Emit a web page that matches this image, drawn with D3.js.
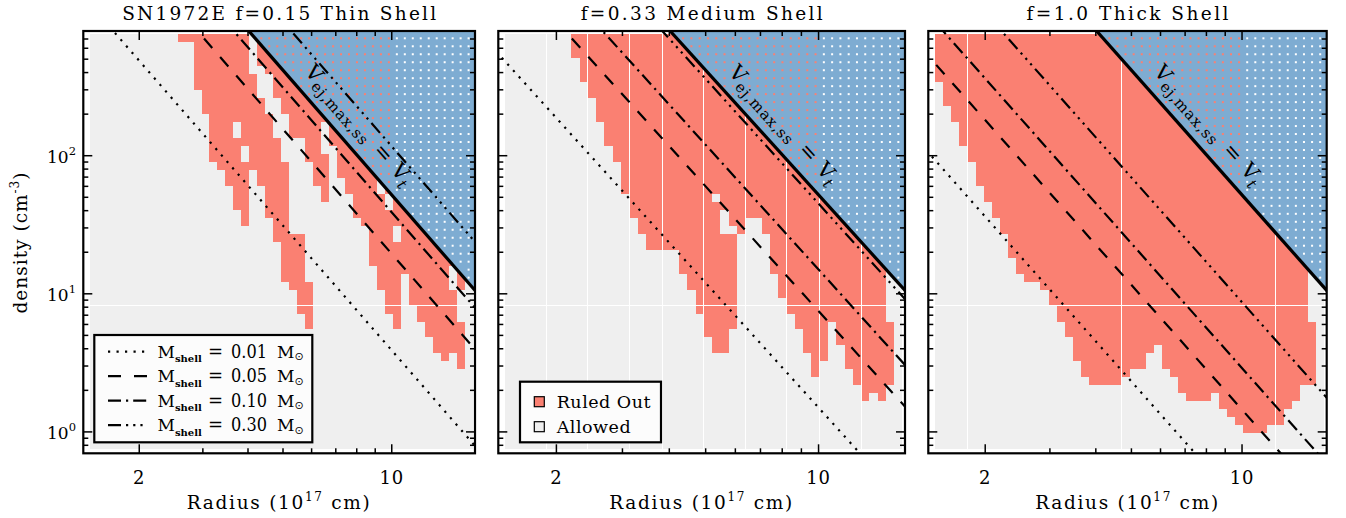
<!DOCTYPE html>
<html><head><meta charset="utf-8">
<script src="https://cdn.jsdelivr.net/npm/d3@7"></script>
<style>body{margin:0;background:#fff}svg{display:block}text{font-family:"DejaVu Serif",serif;fill:#000}</style>
</head><body>
<svg id="chart" width="1346" height="518"></svg>
<script>
// ---------------- data ----------------
const panelTitles = ["SN1972E f=0.15 Thin Shell", "f=0.33 Medium Shell", "f=1.0 Thick Shell"];
const shellFractions = [0.15, 0.33, 1.0];
const shellMasses = [0.01, 0.05, 0.10, 0.30];
const shellMassLabels = ["0.01", "0.05", "0.10", "0.30"];
const radiusDomain = [1.4, 17];          // 10^17 cm
const densityDomain = [0.7, 800];        // cm^-3
const radiusMajorTicks = [2, 10];
const radiusMinorTicks = [3, 4, 5, 6, 7, 8, 9];
const densityMajorTicks = [1, 10, 100];
const densityMinorTicks = [0.8, 0.9, 2, 3, 4, 5, 6, 7, 8, 9, 20, 30, 40, 50, 60, 70, 80, 90, 200, 300, 400, 500, 600, 700];
// model grid: 48 radius bins x 52 density bins (density bins counted from the highest density)
const gridRadius = [1.46, 16.74];
const gridRadiusBins = 48;
const gridDensity = [757, 0.75];
const gridDensityBins = 52;
// locus v_ej,max,ss = v_t : n * R^3 (cm^-3 * (10^17 cm)^3)
const vtLocus = 52000;
// ruled-out density-bin runs [first, end) for each radius bin
const ruledOutThin = [
 [],[],[],[],[],[],[],[],[],[],[],
 [[0,1]],[[0,1]],[[0,7]],[[0,10]],[[0,16]],[[0,17]],[[0,19]],
 [[0,11],[13,22]],[[0,14],[16,24]],[[5,17]],[[0,4],[8,19]],[[0,5],[10,23]],
 [[0,8],[13,26]],[[0,10],[16,31]],[[0,13],[25,32]],[[0,13],[25,35]],[[0,16],[31,37]],
 [[0,19]],[[0,11],[15,21]],[[0,14]],[[0,18]],[[0,20]],[[0,23]],[[0,24]],[[0,29]],
 [[0,18],[20,32]],[[0,20],[22,35]],[[0,24],[26,37]],[[0,30]],[[0,34]],[[0,36]],
 [[0,38]],[[0,40]],[[0,41]],[[0,29],[32,40]],[[0,32],[36,42]],[]
];
const ruledOutMedium = [
 [],[],[],[],[],[],[],[],
 [[0,3]],[[0,6]],[[0,8]],[[0,11]],[[0,14]],[[0,16]],[[0,20]],[[0,23]],[[0,25]],
 [[0,27]],[[0,27]],[[0,27]],[[0,27]],[[0,30]],[[0,32]],[[0,35]],[[0,38]],
 [[0,20],[21,40]],[[0,22],[25,40]],[[0,24],[25,37]],[[0,25]],[[0,23]],[[0,23]],[[0,25]],
 [[0,30]],[[0,33]],[[0,35]],[[0,37]],[[0,40]],[[0,43]],[[0,41]],[[0,36]],[[0,39]],
 [[0,42]],[[0,44]],[[0,46]],[[0,45]],[[0,46]],[[36,44]],[]
];
const ruledOutThick = [
 [[0,6]],[[0,9]],[[0,11]],[[0,14]],[[0,16]],[[0,19]],[[0,21]],[[0,23]],[[0,25]],[[0,28]],
 [[0,30]],[[0,31]],[[0,31]],[[0,32]],[[0,34]],[[0,36]],[[0,38]],[[0,41]],[[0,43]],[[0,44]],
 [[0,44]],[[0,44]],[[0,44]],[[0,43]],[[0,42]],[[0,42]],[[0,40]],[[0,39]],[[0,42]],[[0,43]],
 [[0,45]],[[0,46]],[[0,46]],[[0,46]],[[0,45]],[[0,47]],[[0,48]],[[0,49]],[[0,50]],[[0,50]],
 [[0,50]],[[0,49]],[[0,49]],[[0,47]],[[0,46]],[[0,44]],[[36,44]],[]
];
const ruledOut = [ruledOutThin, ruledOutMedium, ruledOutThick];
// radius below which the hidden (behind blue) bins are ruled out
const hiddenRuledOutRadius = 10;
// seams of the rendered grid image
const seamDensityBin = 34;
const seamRadiusBins = [[], [5,10,15,19,24,29,34,38,43], [4,23,42]];
const legendItems = ["Ruled Out", "Allowed"];

// ---------------- physics for the mass lines ----------------
const MSUN = 1.989e33, MP = 1.6726e-24, MU = 1.4, RUNIT = 1e17;
function shellDensity(M, f, R) {
  const vol = 4 / 3 * Math.PI * Math.pow(R * RUNIT, 3) * (Math.pow(1 + f, 3) - 1);
  return M * MSUN / (MU * MP * vol);
}

// ---------------- layout / style ----------------
const RED = "#fa8072", ALLOWED = "#efefef", BLUE = "#7eacd2";
const panelX = [[83.3, 475], [498.3, 905], [928.3, 1326.7]];
const titleWidths = [314, 242, 202];
const plotTop = 31, plotBottom = 453.3;
const dashes = ["2.2,6.3", "12.5,12", "13,5,2.2,5", "13,5,2.2,5,2.2,5,2.2,5"];
const legendDashes = ["2.2,6.3", "13,13", "13,5,2.2,5", "13,5,2.2,5,2.2,5,2.2,5"];

const svg = d3.select("#chart");
const defs = svg.append("defs");
const radiusEdge = c => gridRadius[0] * Math.pow(gridRadius[1] / gridRadius[0], c / gridRadiusBins);
const densityEdge = k => gridDensity[0] * Math.pow(gridDensity[1] / gridDensity[0], k / gridDensityBins);

panelTitles.forEach((title, i) => {
  const [x0, x1] = panelX[i];
  const x = d3.scaleLog().domain(radiusDomain).range([x0, x1]);
  const y = d3.scaleLog().domain(densityDomain).range([plotBottom, plotTop]);
  const f = shellFractions[i];
  const g = svg.append("g");
  defs.append("clipPath").attr("id", "clip" + i).append("rect")
    .attr("x", x0).attr("y", plotTop).attr("width", x1 - x0).attr("height", plotBottom - plotTop);
  const plot = g.append("g").attr("clip-path", `url(#clip${i})`);

  // allowed grid background
  plot.append("rect").attr("x", x(radiusEdge(0))).attr("y", y(densityEdge(0)))
    .attr("width", x(radiusEdge(gridRadiusBins)) - x(radiusEdge(0)))
    .attr("height", y(densityEdge(gridDensityBins)) - y(densityEdge(0)))
    .attr("fill", ALLOWED).attr("shape-rendering", "crispEdges");

  // ruled-out bins
  const runs = [];
  ruledOut[i].forEach((list, c) => list.forEach(([a, b]) => runs.push({c, a, b})));
  plot.append("g").selectAll("rect").data(runs).join("rect")
    .attr("x", d => x(radiusEdge(d.c)))
    .attr("width", d => x(radiusEdge(d.c + 1)) - x(radiusEdge(d.c)))
    .attr("y", d => y(densityEdge(d.a)))
    .attr("height", d => y(densityEdge(d.b)) - y(densityEdge(d.a)))
    .attr("fill", RED).attr("shape-rendering", "crispEdges");

  // image seams
  const sg = plot.append("g").attr("stroke", "#fff").attr("stroke-width", 1).attr("shape-rendering", "crispEdges");
  sg.append("line").attr("x1", x(radiusEdge(0))).attr("x2", x(radiusEdge(gridRadiusBins)))
    .attr("y1", y(densityEdge(seamDensityBin))).attr("y2", y(densityEdge(seamDensityBin)));
  sg.selectAll("line.v").data(seamRadiusBins[i]).join("line").attr("class", "v")
    .attr("x1", c => x(radiusEdge(c))).attr("x2", c => x(radiusEdge(c)))
    .attr("y1", y(densityEdge(0))).attr("y2", y(densityEdge(gridDensityBins)));

  // excluded region above v_ej,max,ss = v_t
  const rTop = Math.cbrt(vtLocus / densityDomain[1]);
  const rEnd = radiusDomain[1];
  plot.append("path").attr("fill", BLUE)
    .attr("d", d3.line()([[x(rTop), y(densityDomain[1])], [x(rEnd), y(densityDomain[1])], [x(rEnd), y(vtLocus / Math.pow(rEnd, 3))]]) + "Z");
  const dots = [];
  for (let c = 0; c < gridRadiusBins; c++) for (let k = 0; k < gridDensityBins; k++) {
    const rc = Math.sqrt(radiusEdge(c) * radiusEdge(c + 1));
    const nc = Math.sqrt(densityEdge(k) * densityEdge(k + 1));
    if (nc > vtLocus / Math.pow(rc, 3) * 1.08) dots.push({rc, nc});
  }
  plot.append("g").selectAll("rect").data(dots).join("rect")
    .attr("x", d => x(d.rc) - 1).attr("y", d => y(d.nc) - 1).attr("width", 2).attr("height", 2)
    .attr("fill", d => d.rc < hiddenRuledOutRadius ? RED : "#fff");

  // shell mass lines
  const rA = 1.2, rB = 20;
  shellMasses.forEach((M, j) => {
    plot.append("path").attr("fill", "none").attr("stroke", "#000").attr("stroke-width", 2.2)
      .attr("stroke-dasharray", dashes[j])
      .attr("d", d3.line()([[x(rA), y(shellDensity(M, f, rA))], [x(rB), y(shellDensity(M, f, rB))]]));
  });
  plot.append("path").attr("fill", "none").attr("stroke", "#000").attr("stroke-width", 3.2)
    .attr("d", d3.line()([[x(rA), y(vtLocus / Math.pow(rA, 3))], [x(rB), y(vtLocus / Math.pow(rB, 3))]]));

  // annotation along the line
  const pA = [x(3), y(vtLocus / 27)], pB = [x(15), y(vtLocus / 3375)];
  const ang = Math.atan2(pB[1] - pA[1], pB[0] - pA[0]);
  const nMid = 132, rMid = Math.cbrt(vtLocus / nMid);
  const off = 14.5;
  const tx = x(rMid) + Math.sin(ang) * off, ty = y(nMid) - Math.cos(ang) * off;
  const at = g.append("text").attr("text-anchor", "middle")
    .attr("transform", `translate(${tx},${ty}) rotate(${ang * 180 / Math.PI})`);
  at.append("tspan").attr("font-size", 21).text("V");
  at.append("tspan").attr("font-size", 15).attr("dy", 5).attr("letter-spacing", 1).text("ej,max,ss");
  at.append("tspan").attr("font-size", 21).attr("dy", -5).attr("dx", 10).text("=");
  at.append("tspan").attr("font-size", 21).attr("dx", 9).text("V");
  at.append("tspan").attr("font-size", 15).attr("dy", 5).attr("font-style", "italic").text("t");

  // frame
  g.append("rect").attr("x", x0).attr("y", plotTop).attr("width", x1 - x0).attr("height", plotBottom - plotTop)
    .attr("fill", "none").attr("stroke", "#000").attr("stroke-width", 2.2);
  // ticks
  const tg = g.append("g").attr("stroke", "#000").attr("stroke-width", 1.5);
  const xt = radiusMajorTicks.map(v => [v, 9]).concat(radiusMinorTicks.map(v => [v, 5]));
  xt.forEach(([v, L]) => {
    tg.append("line").attr("x1", x(v)).attr("x2", x(v)).attr("y1", plotBottom).attr("y2", plotBottom - L);
    tg.append("line").attr("x1", x(v)).attr("x2", x(v)).attr("y1", plotTop).attr("y2", plotTop + L);
  });
  const yt = densityMajorTicks.map(v => [v, 9]).concat(densityMinorTicks.map(v => [v, 5]));
  yt.forEach(([v, L]) => {
    tg.append("line").attr("x1", x0).attr("x2", x0 + L).attr("y1", y(v)).attr("y2", y(v));
    tg.append("line").attr("x1", x1).attr("x2", x1 - L).attr("y1", y(v)).attr("y2", y(v));
  });
  // tick labels
  radiusMajorTicks.forEach(v => {
    g.append("text").attr("x", x(v)).attr("y", 483.5).attr("text-anchor", "middle")
      .attr("font-size", 18).attr("letter-spacing", 0.8).text(v);
  });
  if (i === 0) {
    densityMajorTicks.forEach(v => {
      const t = g.append("text").attr("x", 76).attr("y", y(v) + 6.8).attr("text-anchor", "end").attr("font-size", 17);
      t.append("tspan").text("10");
      t.append("tspan").attr("font-size", 11.5).attr("dy", -8).text(Math.round(Math.log10(v)));
    });
  }
  // title and x label
  g.append("text").attr("x", (x0 + x1) / 2 - titleWidths[i] / 2).attr("y", 20).attr("font-size", 18.5)
    .attr("textLength", titleWidths[i]).attr("lengthAdjust", "spacing").text(title);
  const xl = g.append("text").attr("x", (x0 + x1) / 2).attr("y", 508.5).attr("text-anchor", "middle")
    .attr("font-size", 18.5).attr("letter-spacing", 1.7);
  xl.append("tspan").text("Radius (10");
  xl.append("tspan").attr("font-size", 12).attr("dy", -8).text("17");
  xl.append("tspan").attr("dy", 8).text(" cm)");

  // legends
  if (i === 0) {
    const lg = g.append("g");
    lg.append("rect").attr("x", 94.3).attr("y", 335).attr("width", 218).attr("height", 107.3)
      .attr("fill", "#fcfcfc").attr("stroke", "#000").attr("stroke-width", 2.2);
    shellMasses.forEach((M, j) => {
      const yy = 351.7 + j * 24.45;
      lg.append("line").attr("x1", 108).attr("x2", 147.5).attr("y1", yy).attr("y2", yy)
        .attr("stroke", "#000").attr("stroke-width", 2.2).attr("stroke-dasharray", legendDashes[j]);
      const by = yy + 6;
      const t1 = lg.append("text").attr("x", 157.5).attr("y", by).attr("font-size", 17);
      t1.append("tspan").text("M");
      t1.append("tspan").attr("font-size", 10).attr("font-weight", "bold").attr("dy", 4.5).text("shell");
      lg.append("text").attr("x", 208).attr("y", by).attr("font-size", 18).text("=");
      lg.append("text").attr("x", 231).attr("y", by).attr("font-size", 18)
        .attr("textLength", 36).attr("lengthAdjust", "spacingAndGlyphs").text(shellMassLabels[j]);
      const t2 = lg.append("text").attr("x", 277).attr("y", by).attr("font-size", 17);
      t2.append("tspan").text("M");
      t2.append("tspan").attr("font-size", 11).attr("dy", 2.5).style("font-family", "DejaVu Sans").text("\u2299");
    });
  }
  if (i === 1) {
    const lg = g.append("g");
    lg.append("rect").attr("x", 520).attr("y", 381.7).attr("width", 141).attr("height", 60.6)
      .attr("fill", "#fcfcfc").attr("stroke", "#000").attr("stroke-width", 2.2);
    legendItems.forEach((name, j) => {
      const yy = 396.7 + j * 25;
      lg.append("rect").attr("x", 534.3).attr("y", yy).attr("width", 10).attr("height", 10)
        .attr("fill", j === 0 ? RED : ALLOWED).attr("stroke", "#000").attr("stroke-width", 1.2);
      lg.append("text").attr("x", 556.7).attr("y", yy + 11.5).attr("font-size", 17.5)
        .attr("letter-spacing", 0.5).text(name);
    });
  }
});

// y axis label
const yl = svg.append("text").attr("transform", "translate(26.5,242.5) rotate(-90)")
  .attr("text-anchor", "middle").attr("font-size", 18.5).attr("letter-spacing", 1);
yl.append("tspan").text("density (cm");
yl.append("tspan").attr("font-size", 12).attr("dy", -8).text("-3");
yl.append("tspan").attr("dy", 8).text(")");
</script>
</body></html>
